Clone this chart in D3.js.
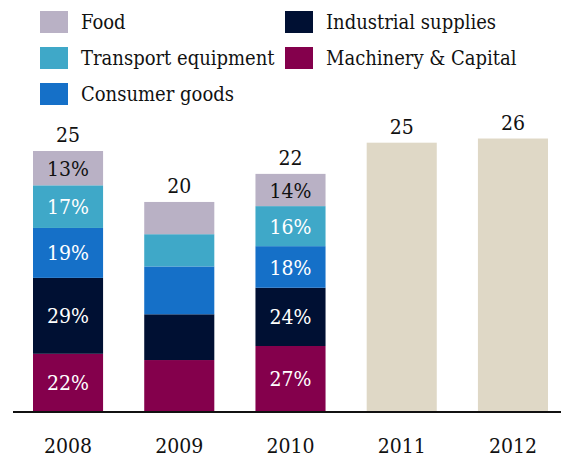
<!DOCTYPE html>
<html>
<head>
<meta charset="utf-8">
<script src="https://cdn.jsdelivr.net/npm/d3@7"></script>
<style>
  body { margin: 0; background: #fff; }
  text { font-family: "DejaVu Serif Condensed", "DejaVu Serif", serif; }
</style>
</head>
<body>
<svg width="561" height="459"></svg>
<script>
var svg = d3.select("svg"),
    width = +svg.attr("width"),
    height = +svg.attr("height");

// data, in $bn
var years = ["2008", "2009", "2010", "2011", "2012"];
var totalLabels = ["25", "20", "22", "25", "26"];
var totals = [25.0, 20.1, 22.8, 25.8, 26.2];

var categories = ["Machinery & Capital", "Industrial supplies", "Consumer goods", "Transport equipment", "Food"];
var machinery  = [5.5, 4.9, 6.25, null, null];
var industrial = [7.3, 4.4, 5.6, null, null];
var consumer   = [4.8, 4.6, 4.0, null, null];
var transport  = [4.1, 3.1, 3.85, null, null];
var food       = [3.3, 3.1, 3.1, null, null];

// printed shares (2009 has none)
var pctMachinery  = ["22%", null, "27%"];
var pctIndustrial = ["29%", null, "24%"];
var pctConsumer   = ["19%", null, "18%"];
var pctTransport  = ["17%", null, "16%"];
var pctFood       = ["13%", null, "14%"];

var legendOrder = ["Food", "Industrial supplies", "Transport equipment", "Machinery & Capital", "Consumer goods"];

function color (name) {
    let colors = {
        "Food": "#b9b1c5",
        "Transport equipment": "#3fa8c8",
        "Consumer goods": "#1570c8",
        "Industrial supplies": "#001033",
        "Machinery & Capital": "#84004c"
    };
    return colors[name];
}
var forecastColor = "#dfd8c6";

var series = [machinery, industrial, consumer, transport, food];
var pcts = [pctMachinery, pctIndustrial, pctConsumer, pctTransport, pctFood];

var x = d3.scaleBand()
    .domain(years)
    .range([33, 548])
    .paddingInner(0.37)
    .paddingOuter(0);

var y = d3.scaleLinear()
    .domain([0, 25])
    .range([411, 151]);

// stacked bars
var rows = years.map((yr, i) => {
    let r = { year: yr };
    categories.forEach((c, k) => { r[c] = series[k][i] || 0; });
    return r;
});
var stacked = d3.stack().keys(categories)(rows);

stacked.forEach((layer, k) => {
    let g = svg.append("g");
    g.selectAll("rect")
        .data(layer.filter(d => d[1] > d[0]))
        .enter().append("rect")
        .attr("x", d => x(d.data.year))
        .attr("width", x.bandwidth())
        .attr("y", d => y(d[1]))
        .attr("height", d => y(d[0]) - y(d[1]))
        .attr("fill", color(layer.key));

    g.selectAll("text")
        .data(layer.filter((d, i) => pcts[k][i]))
        .enter().append("text")
        .attr("x", d => x(d.data.year) + x.bandwidth() / 2)
        .attr("y", d => (y(d[0]) + y(d[1])) / 2)
        .attr("dy", "0.36em")
        .attr("text-anchor", "middle")
        .attr("font-size", 21)
        .attr("fill", layer.key === "Food" ? "#111" : "#fff")
        .text(d => pcts[k][years.indexOf(d.data.year)]);
});

// forecast bars
var fc = years.map((yr, i) => ({ year: yr, total: totals[i] })).filter((d, i) => series[0][i] == null);
svg.append("g").selectAll("rect")
    .data(fc)
    .enter().append("rect")
    .attr("x", d => x(d.year))
    .attr("width", x.bandwidth())
    .attr("y", d => y(d.total))
    .attr("height", d => y(0) - y(d.total))
    .attr("fill", forecastColor);

// totals
svg.append("g").selectAll("text")
    .data(years)
    .enter().append("text")
    .attr("x", d => x(d) + x.bandwidth() / 2)
    .attr("y", (d, i) => y(totals[i]) - 9)
    .attr("text-anchor", "middle")
    .attr("font-size", 21)
    .attr("fill", "#111")
    .text((d, i) => totalLabels[i]);

// year labels
svg.append("g").selectAll("text")
    .data(years)
    .enter().append("text")
    .attr("x", d => x(d) + x.bandwidth() / 2)
    .attr("y", 453)
    .attr("text-anchor", "middle")
    .attr("font-size", 21)
    .attr("fill", "#111")
    .text(d => d);

svg.append("line")
    .attr("x1", 13).attr("x2", width)
    .attr("y1", y(0) + 1).attr("y2", y(0) + 1)
    .attr("stroke", "#111")
    .attr("stroke-width", 2);

// legend
var legend = svg.append("g");
legendOrder.forEach((name, i) => {
    let col = i % 2, row = Math.floor(i / 2);
    let lg = legend.append("g")
        .attr("transform", `translate(${col === 0 ? 40 : 285},${11 + row * 36})`);
    lg.append("rect")
        .attr("width", 28).attr("height", 22)
        .attr("fill", color(name));
    lg.append("text")
        .attr("x", 41).attr("y", 11)
        .attr("dy", "0.36em")
        .attr("font-size", 20)
        .attr("fill", "#111")
        .text(name);
});
</script>
</body>
</html>
